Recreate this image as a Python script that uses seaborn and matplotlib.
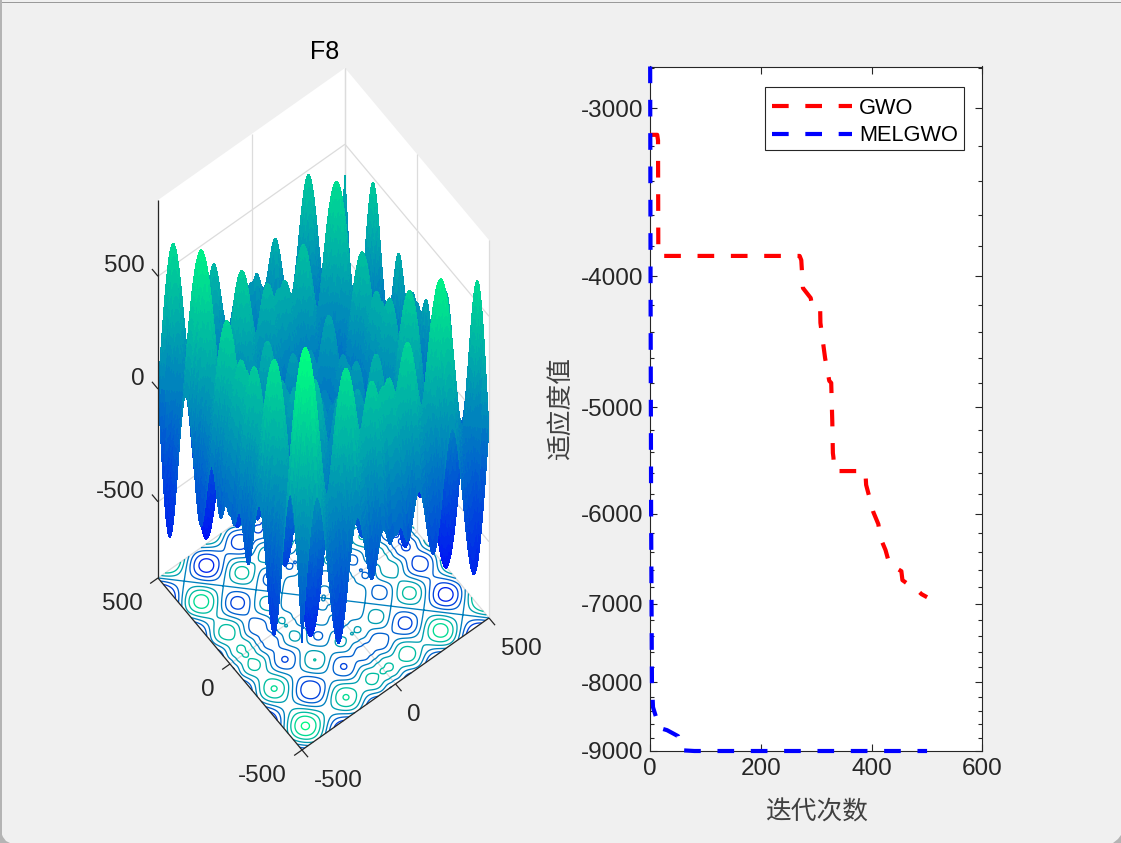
import numpy as np
import matplotlib
matplotlib.use("Agg")
import matplotlib.pyplot as plt
import seaborn as sns
from matplotlib.ticker import FuncFormatter
from matplotlib.patches import Rectangle, Polygon
from mpl_toolkits.mplot3d.art3d import Poly3DCollection, Line3DCollection

# ---- values ---------------------------------------------------------------
gwo_iter = [0, 13, 14.5, 15, 17, 270, 273, 276, 290, 292, 307, 307.5, 316, 323.5, 327, 329, 330, 331, 332.5,
            388.6, 390, 403, 412, 416, 425, 432, 453.6, 455.5, 463, 482.5, 490, 500]
gwo_fit = [-3140, -3140, -3170, -3840, -3862, -3862, -3890, -4080, -4150, -4195, -4213, -4330, -4600, -4781,
           -4798, -5137, -5409, -5450, -5578, -5578, -5711, -5983, -6107, -6256, -6384, -6539, -6619, -6721,
           -6755, -6838, -6884, -6920]
mel_iter = [0.3, 1, 2, 3.5, 5.4, 12.6, 16, 30.7, 50.6, 57.8, 80, 500]
mel_fit = [-2794, -4000, -6000, -8000, -8351, -8537, -8650, -8685, -8774, -8989, -9000, -9000]
labels = ["GWO", "MELGWO"]
x_ticks = [0, 200, 400, 600]
y_ticks = [-9000, -8000, -7000, -6000, -5000, -4000, -3000]
y_minor = [v for v in range(-9000, -2799, 200)]
box_ticks = [-500, 0, 500]
contour_levels = [-800, -600, -400, -200, 0, 200, 400, 600, 800]
Z_LIM = 838

# F8 (Schwefel) surface: evaluated from the benchmark's definition.
grid = np.arange(-500, 501, 5)
X, Y = np.meshgrid(grid, grid)
Z = -X * np.sin(np.sqrt(np.abs(X))) - Y * np.sin(np.sqrt(np.abs(Y)))

# ---- style ----------------------------------------------------------------
sns.set_theme(style="white")
plt.rcParams["font.family"] = ["Liberation Sans", "Noto Sans CJK SC"]
plt.rcParams["axes.unicode_minus"] = False
BG = "#f0f0f0"
INK = "#262626"
TS = 17.5
W, H = 1121, 843
fig = plt.figure(figsize=(W / 100, H / 100), dpi=100, facecolor=BG)

# ---- left: 3-D axes, whole-figure canvas with a MATLAB-style stretched box ---
ax = fig.add_axes([0, 0, 1, 1], projection="3d", computed_zorder=False)
ax.apply_aspect = lambda position=None: None
M = np.array([[0.1870, -0.1440, 0.0, 323.5],
              [0.1320, 0.1720, 0.2255, 434.0],
              [0.144, 0.187, -1e-4, 0.0],
              [0.0, 0.0, 0.0, 1.0]])
ax.get_proj = lambda: M
ax.set_axis_off()
ax.patch.set_visible(False)
ax.viewLim.intervalx = (0, W)
ax.viewLim.intervaly = (0, H)


def project(x, y, z):
    p = M @ np.array([x, y, z, 1.0])
    return p[0], p[1]


a, b, c = 500, 500, Z_LIM
walls = [[(-a, b, -c), (a, b, -c), (a, b, c), (-a, b, c)],
         [(a, -b, -c), (a, b, -c), (a, b, c), (a, -b, c)],
         [(-a, -b, -c), (a, -b, -c), (a, b, -c), (-a, b, -c)]]
ax.add_collection3d(Poly3DCollection(walls, facecolors="white", edgecolors="none", zorder=1))
grid_segs = []
for t in box_ticks:
    grid_segs += [[(-a, b, t), (a, b, t)], [(a, -b, t), (a, b, t)],
                  [(t, b, -c), (t, b, c)], [(a, t, -c), (a, t, c)],
                  [(t, -b, -c), (t, b, -c)], [(-a, t, -c), (a, t, -c)]]
ax.add_collection3d(Line3DCollection(grid_segs, colors="#dcdcdc", linewidths=0.9, zorder=2))

ax.contour(X, Y, Z, levels=contour_levels, zdir="z", offset=-Z_LIM, cmap="winter",
           vmin=-Z_LIM, vmax=Z_LIM, linewidths=0.95, zorder=3)
ax.plot_surface(X, Y, Z, cmap=plt.get_cmap("winter", 32), vmin=-Z_LIM, vmax=Z_LIM, rstride=1, cstride=1,
                linewidth=0, antialiased=False, shade=False, zorder=4)

TL = 42
axis_segs = [[(-a, -b, -c), (a, -b, -c)], [(-a, -b, -c), (-a, b, -c)], [(-a, b, -c), (-a, b, c)]]
for t in box_ticks:
    axis_segs += [[(-a, b, t), (-a, b + TL, t)], [(t, -b, -c), (t, -b - TL, -c)], [(-a, t, -c), (-a - TL, t, -c)]]
ax.add_collection3d(Line3DCollection(axis_segs, colors=INK, linewidths=0.9, zorder=5))

for t in box_ticks:
    ax.text2D(*project(-516, 570, t), str(t), transform=ax.transData, ha="right", va="center",
              fontsize=TS, color=INK, zorder=6)
    ax.text2D(*project(t - 47, -644, -c), str(t), transform=ax.transData, ha="left", va="center",
              fontsize=TS, color=INK, zorder=6)
    ax.text2D(*project(-625, t - 55, -c), str(t), transform=ax.transData, ha="right", va="center",
              fontsize=TS, color=INK, zorder=6)
fig.text(325 / W, 1 - 52 / H, "F8", ha="center", va="center", fontsize=18, color="black")

# ---- right: convergence curves on a log-magnitude scale ---------------------
ax2 = fig.add_axes([650 / W, 1 - 751 / H, 332.5 / W, 684.5 / H], facecolor="white")
forward = lambda y: -np.log10(np.maximum(np.abs(y), 1e-9))
inverse = lambda v: -np.power(10.0, -np.asarray(v))
ax2.set_yscale("function", functions=(forward, inverse))
dash = (0, (4, 4))
sns.lineplot(x=gwo_iter, y=gwo_fit, ax=ax2, color="red", linestyle=dash, linewidth=3,
             label=labels[0], sort=False, estimator=None, clip_on=False, zorder=3)
sns.lineplot(x=mel_iter, y=mel_fit, ax=ax2, color="blue", linestyle=dash, linewidth=3,
             label=labels[1], sort=False, estimator=None, clip_on=False, zorder=4)
ax2.set_xlim(0, 600)
ax2.set_ylim(-9000, -2794)
ax2.set_xticks(x_ticks)
ax2.set_yticks(y_ticks)
ax2.set_yticks(y_minor, minor=True)
ax2.yaxis.set_major_formatter(FuncFormatter(lambda v, _: f"{v:.0f}"))
ax2.yaxis.set_minor_formatter(FuncFormatter(lambda v, _: ""))
ax2.tick_params(which="major", direction="in", length=5, width=0.8, top=True, right=True,
                left=True, bottom=True, labelsize=TS, labelcolor=INK, color=INK, pad=5)
ax2.tick_params(which="minor", axis="y", direction="in", length=3, width=0.8, left=True, right=True, color=INK)
for s in ax2.spines.values():
    s.set_visible(True)
    s.set_color(INK)
    s.set_linewidth(0.8)
ax2.set_xlabel("迭代次数", fontsize=18.5, color="#404040")
ax2.set_ylabel("适应度值", fontsize=18.5, color="#404040")
ax2.xaxis.set_label_coords(0.5, -0.073)
ax2.yaxis.set_label_coords(-0.232, 0.5)

# legend frame, then its entries
ax2.add_patch(Rectangle(((764.5 - 650) / 332.5, (751 - 150) / 684.5), 200 / 332.5, 63 / 684.5,
                        transform=ax2.transAxes, facecolor="white", edgecolor=INK, lw=0.8, zorder=5))
leg = ax2.legend(loc="upper left", bbox_to_anchor=((764.5 - 650) / 332.5, (751 - 90) / 684.5),
                 borderaxespad=0, fontsize=15.7, frameon=False, handlelength=3.67, handletextpad=0.31,
                 labelspacing=0.3, borderpad=0.36)
leg.set_zorder(6)
for t in leg.get_texts():
    t.set_color("black")

# ---- window edge visible in the screenshot ---------------------------------
EDGE = "#b4b4b4"
fig.add_artist(Rectangle((0, 1 - 3 / H), 1, 1 / H, transform=fig.transFigure, color="#9a9a9a", lw=0))
fig.add_artist(Rectangle((0, 0), 2 / W, 1, transform=fig.transFigure, color=EDGE, lw=0))
fig.add_artist(Polygon([(0, 0), (0, 13 / H), (3 / W, 6 / H), (6 / W, 2 / H), (10 / W, 0)],
                       transform=fig.transFigure, color=EDGE, lw=0))
fig.add_artist(Polygon([(1, 0), (1, 8 / H), (1 - 3 / W, 4 / H), (1 - 8 / W, 0)],
                       transform=fig.transFigure, color=EDGE, lw=0))

fig.savefig("out.png", dpi=100, facecolor=BG)
